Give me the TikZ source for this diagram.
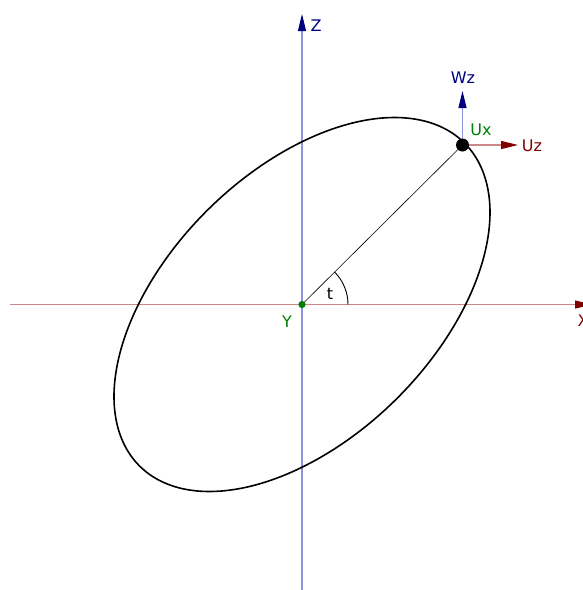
\documentclass[tikz,border=0pt]{standalone}
\usepackage{fontspec}
\setmainfont{DejaVu Sans}
\usetikzlibrary{arrows.meta}
\definecolor{axred}{RGB}{128,0,0}
\definecolor{axredl}{RGB}{205,135,135}
\definecolor{axblue}{RGB}{0,0,128}
\definecolor{axbluel}{RGB}{145,145,225}
\definecolor{ggreen}{RGB}{0,128,0}
\tikzset{
  lbl/.style={inner sep=0pt, font=\fontsize{16}{19}\selectfont},
  redvec/.style={draw=axredl, line width=1.2pt, -{Triangle[color=axred,length=17pt,width=8pt]}},
  bluevec/.style={draw=axbluel, line width=1.2pt, -{Triangle[color=axblue,length=17pt,width=8pt]}},
}
\begin{document}
\begin{tikzpicture}[x=1pt,y=-1pt]
\useasboundingbox (0,0) rectangle (582,590);
\coordinate (O) at (302,304.5);
\coordinate (Xs) at (10,304.5);
\coordinate (Xe) at (592,304.5);
\coordinate (Zs) at (302,590);
\coordinate (Ze) at (302,14);
\draw[redvec] (Xs) -- (Xe);
\draw[bluevec] (Zs) -- (Ze);
\node[lbl, text=axblue] (zl) at (316,26) {Z};
\node[lbl, text=axred] (xl) at (583,321) {X};
% ellipse
\draw[line width=1.6pt] plot[smooth cycle, samples=180, domain=0:358] ({302+188*cos(\x)},{304.5-187*cos(\x-60.5)});
% radius line and angle
\coordinate (P) at (462.5,145);
\draw[line width=0.6pt] (O) -- (P);
\draw[line width=0.9pt] (348,304.5) arc[start angle=0, end angle=-45, radius=46];
\node[lbl] (tl) at (330,294) {t};
% vectors at P
\coordinate (Wt) at (462.5,91);
\coordinate (Ut) at (518,145);
\draw[bluevec] (P) -- (Wt);
\draw[redvec] (P) -- (Ut);
\fill (P) circle (6.5);
\fill[ggreen] (O) circle (3.6);
\node[lbl, text=axblue] (wz) at (463,78) {Wz};
\node[lbl, text=axred] (uz) at (532,146) {Uz};
\node[lbl, text=ggreen] (ux) at (481,130) {Ux};
\node[lbl, text=ggreen] (yl) at (287,322) {Y};
\end{tikzpicture}
\end{document}
